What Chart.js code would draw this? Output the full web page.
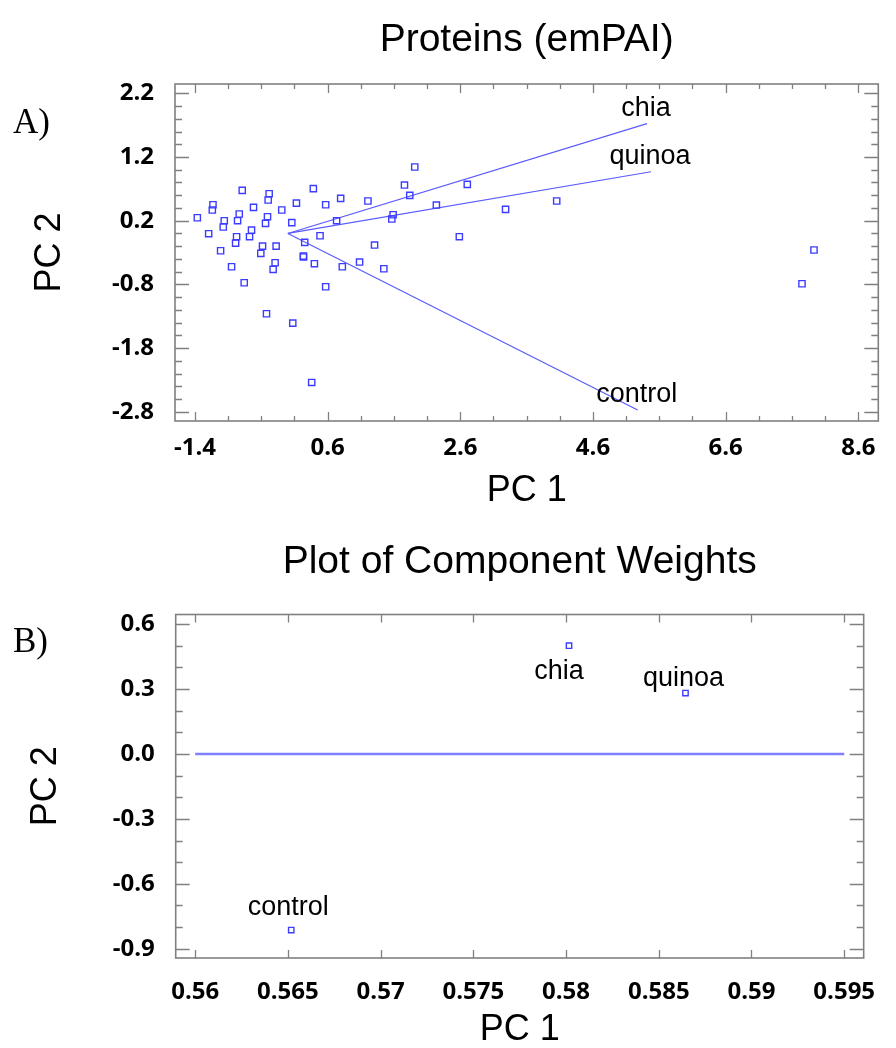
<!DOCTYPE html>
<html>
<head>
<meta charset="utf-8">
<script src="https://cdn.jsdelivr.net/npm/chart.js@4.4.1/dist/chart.umd.min.js"></script>
<style>
  body { margin: 0; background: #fff; width: 896px; height: 1048px; position: relative; overflow: hidden; }
  .panel { position: absolute; left: 0; width: 896px; }
  .tag { position: absolute; font-family: 'Liberation Serif', 'Times New Roman', serif; font-size: 35px; color: #000; line-height: 40px; }
</style>
</head>
<body>
<div class="panel" style="top:0;height:520px"><canvas id="scoresChart"></canvas></div>
<div class="panel" style="top:520px;height:540px"><canvas id="weightsChart"></canvas></div>
<div class="tag" style="left:13px;top:102px">A)</div>
<div class="tag" style="left:13px;top:621px">B)</div>
<script>
// PCA scores (panel A)
var pc1Scores = [-1.365, -1.194, -1.129, -1.139, -0.688, -0.282, -0.297, -0.518, -0.733, -0.959,
    -0.974, -0.758, -0.773, -0.788, -0.548, -0.578, -1.014, -0.849, -0.658, -0.382,
    -0.408, -0.177, -0.192, -0.222, -0.307, -0.337, -0.092, 0.059, 0.129, 0.384,
    0.57, 0.796, 1.207, 0.735, 0.485, 0.254, 0.234, 0.236, 0.4, 0.821,
    1.081, 1.307, 1.447, 0.57, -0.322, 0.074, 0.359, 1.567, 1.587, 1.758,
    1.838, 1.913, 2.239, 2.705, 2.585, 3.282, 4.053, 7.932, 7.751];
var pc2Scores = [0.247, -0.004, 0.451, 0.368, 0.676, 0.624, 0.525, 0.41, 0.305, 0.2,
    0.101, 0.2, -0.051, -0.151, 0.053, -0.051, -0.271, -0.523, -0.774, -0.198,
    -0.313, -0.198, -0.46, -0.564, 0.263, 0.158, 0.368, 0.169, 0.477, 0.703,
    0.451, 0.551, 0.509, 0.2, -0.036, -0.14, -0.355, -0.37, -0.475, -0.523,
    -0.449, -0.182, -0.554, -0.837, -1.261, -1.407, -2.339, 0.226, 0.294, 0.76,
    0.598, 1.043, 0.446, 0.771, -0.051, 0.378, 0.509, -0.26, -0.789];

// variables, biplot vector ends (panel A) and component weights (panel B)
var varNames = ['chia', 'quinoa', 'control'];
var vecPC1 = [5.414, 5.475, 5.274];
var vecPC2 = [1.723, 0.969, -2.772];
var weightPC1 = [0.58016, 0.58644, 0.56518];
var weightPC2 = [0.501, 0.282, -0.814];
var zeroLineX = [0.56, 0.595];

// tick labels
var ticksAx = [-1.4, 0.6, 2.6, 4.6, 6.6, 8.6];
var ticksAy = [2.2, 1.2, 0.2, -0.8, -1.8, -2.8];
var ticksBx = [0.56, 0.565, 0.57, 0.575, 0.58, 0.585, 0.59, 0.595];
var ticksBy = [0.6, 0.3, 0.0, -0.3, -0.6, -0.9];

var markColor = '#3c3cff';
var lineColor = '#5a5aff';
var sans = "'Liberation Sans', Arial, sans-serif";
var tickFont = {family: "'Open Sans', 'Liberation Sans', sans-serif", size: 24, weight: 'bold'};
var axisFont = {family: sans, size: 36};
var titleFont = {family: sans, size: 39, weight: 'normal'};

function range(from, to, step) {
    var out = [];
    for (var v = from; v <= to + 1e-9; v += step) out.push(+v.toFixed(4));
    return out;
}

// box around the plot with inward ticks on all four sides
var framePlugin = {
    id: 'frame',
    afterDatasetsDraw: function (chart, args, opts) {
        var ctx = chart.ctx, a = chart.chartArea;
        var xs = chart.scales.x, ys = chart.scales.y;
        ctx.save();
        ctx.strokeStyle = '#808080';
        ctx.lineWidth = 1.3;
        ctx.beginPath();
        opts.xMinor.forEach(function (v) {
            var px = Math.round(xs.getPixelForValue(v)) + 0.5;
            var len = opts.xMajor.indexOf(v) >= 0 ? opts.xLong : opts.xShort;
            ctx.moveTo(px, a.bottom); ctx.lineTo(px, a.bottom - len);
            ctx.moveTo(px, a.top); ctx.lineTo(px, a.top + len);
        });
        opts.yMinor.forEach(function (v) {
            var py = Math.round(ys.getPixelForValue(v)) + 0.5;
            var len = opts.yMajor.indexOf(v) >= 0 ? opts.yLong : opts.yShort;
            ctx.moveTo(a.left, py); ctx.lineTo(a.left + len, py);
            ctx.moveTo(a.right, py); ctx.lineTo(a.right - len, py);
        });
        ctx.stroke();
        ctx.lineWidth = 1.6;
        ctx.strokeRect(a.left, a.top, a.right - a.left, a.bottom - a.top);
        ctx.restore();
    }
};

// variable names next to points
var namesPlugin = {
    id: 'names',
    afterDatasetsDraw: function (chart, args, opts) {
        var ctx = chart.ctx;
        ctx.save();
        ctx.font = opts.font;
        ctx.fillStyle = '#000';
        ctx.textAlign = 'center';
        ctx.textBaseline = 'middle';
        opts.items.forEach(function (it) {
            var pt = chart.getDatasetMeta(it.ds).data[it.idx];
            ctx.fillText(it.text, pt.x + it.dx, pt.y + it.dy);
        });
        ctx.restore();
    }
};

function axis(min, max, ticks, fmt, size, tickPad, title, titlePad) {
    return {
        type: 'linear', min: min, max: max,
        grid: {display: false, drawTicks: false},
        border: {display: false},
        afterBuildTicks: function (s) { s.ticks = ticks.map(function (v) { return {value: v}; }); },
        afterFit: function (s) { if (s.isHorizontal()) s.height = size; else s.width = size; },
        ticks: {autoSkip: false, maxRotation: 0, padding: tickPad, color: '#000', font: tickFont, callback: fmt},
        title: {display: true, text: title, color: '#000', font: axisFont, padding: titlePad}
    };
}

var fmt1 = function (v) { return v.toFixed(1); };
var fmt3 = function (v) { return String(+v.toFixed(3)); };

// Panel A
var scoreData = pc1Scores.map(function (v, i) { return {x: v, y: pc2Scores[i]}; });
var datasetsA = [{
    data: scoreData, pointStyle: 'rect', pointRadius: 4.4, borderWidth: 1.4,
    borderColor: markColor, backgroundColor: 'rgba(0,0,0,0)'
}];
varNames.forEach(function (n, i) {
    datasetsA.push({
        label: n, data: [{x: 0, y: 0}, {x: vecPC1[i], y: vecPC2[i]}],
        showLine: true, pointRadius: 0, borderColor: lineColor, borderWidth: 1.2
    });
});

new Chart(document.getElementById('scoresChart'), {
    type: 'scatter',
    data: {datasets: datasetsA},
    options: {
        responsive: true, maintainAspectRatio: false, animation: false, events: [],
        layout: {padding: {left: 0, right: 17.7, top: 0, bottom: 0}},
        scales: {
            x: axis(-1.7015, 8.9015, ticksAx, fmt1, 99, 13, 'PC 1', {top: 0, bottom: 7}),
            y: axis(-2.944, 2.346, ticksAy, fmt1, 175, 21, 'PC 2', {top: 28, bottom: 0})
        },
        plugins: {
            legend: {display: false},
            tooltip: {enabled: false},
            title: {display: true, text: 'Proteins (emPAI)', color: '#000', font: titleFont,
                fullSize: false, padding: {top: 16.6, bottom: 20.6}},
            frame: {xMinor: range(-1.4, 8.6, 0.5), xMajor: ticksAx, xLong: 9, xShort: 5,
                yMinor: range(-2.8, 2.2, 0.2), yMajor: ticksAy, yLong: 14, yShort: 7},
            names: {font: '27px ' + sans, items: varNames.map(function (n, i) {
                return {text: n, ds: i + 1, idx: 1, dx: -1, dy: -15};
            })}
        }
    },
    plugins: [framePlugin, namesPlugin]
});

// Panel B
var weightData = weightPC1.map(function (v, i) { return {x: v, y: weightPC2[i]}; });
new Chart(document.getElementById('weightsChart'), {
    type: 'scatter',
    data: {
        datasets: [{
            data: weightData, pointStyle: 'rect', pointRadius: 3.8, borderWidth: 1.4,
            borderColor: markColor, backgroundColor: 'rgba(0,0,0,0)'
        }, {
            data: zeroLineX.map(function (v) { return {x: v, y: 0}; }),
            showLine: true, pointRadius: 0, borderColor: '#7f7fff', borderWidth: 2.4
        }]
    },
    options: {
        responsive: true, maintainAspectRatio: false, animation: false, events: [],
        layout: {padding: {left: 0, right: 15.7, top: 0, bottom: 0}},
        scales: {
            x: axis(0.55895, 0.59605, ticksBx, fmt3, 102, 20, 'PC 1', {top: 0, bottom: 8}),
            y: axis(-0.943, 0.645, ticksBy, fmt1, 175.7, 21, 'PC 2', {top: 24, bottom: 0})
        },
        plugins: {
            legend: {display: false},
            tooltip: {enabled: false},
            title: {display: true, text: 'Plot of Component Weights', color: '#000', font: titleFont,
                fullSize: false, padding: {top: 18.6, bottom: 29.1}},
            frame: {xMinor: ticksBx, xMajor: ticksBx, xLong: 8, xShort: 8,
                yMinor: range(-0.9, 0.6, 0.1), yMajor: ticksBy, yLong: 14, yShort: 7},
            names: {font: '27px ' + sans, items: [
                {text: varNames[0], ds: 0, idx: 0, dx: -10, dy: 26},
                {text: varNames[1], ds: 0, idx: 1, dx: -2, dy: -14},
                {text: varNames[2], ds: 0, idx: 2, dx: -3, dy: -23}
            ]}
        }
    },
    plugins: [framePlugin, namesPlugin]
});
</script>
</body>
</html>
